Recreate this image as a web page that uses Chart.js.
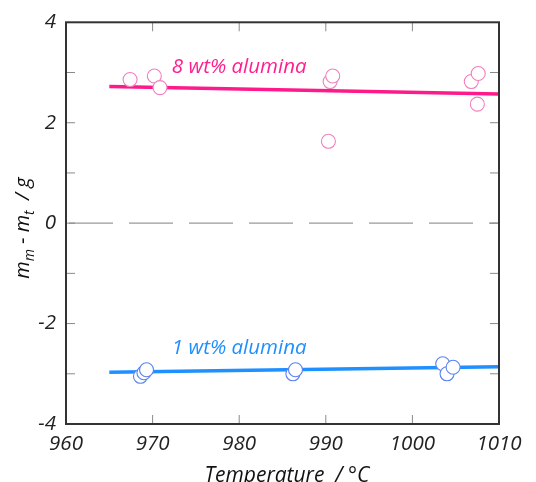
<!DOCTYPE html>
<html><head><meta charset="utf-8">
<script src="https://cdn.jsdelivr.net/npm/chart.js@4.4.1/dist/chart.umd.min.js"></script>
<style>html,body{margin:0;padding:0;background:#fff}#wrap{width:536px;height:482px}</style>
</head><body><div id="wrap"><canvas id="c" width="536" height="482"></canvas></div>
<script>
// Data
const xTicks = [960, 970, 980, 990, 1000, 1010];
const yTicks = [-4, -2, 0, 2, 4];
const pinkT = [967.4, 970.2, 970.85, 990.3, 990.5, 990.8, 1006.8, 1007.6, 1007.5];
const pinkV = [2.86, 2.93, 2.70, 1.63, 2.82, 2.93, 2.82, 2.98, 2.37];
const blueT = [968.6, 969.0, 969.3, 986.2, 986.5, 1003.5, 1004.0, 1004.7];
const blueV = [-3.05, -2.98, -2.92, -3.00, -2.92, -2.80, -3.00, -2.87];
const fitT = [965, 1010];
const pinkFit = [2.72, 2.57];
const blueFit = [-2.97, -2.86];
const labels = [
  {text: '8 wt% alumina', t: 980, v: 3.10, color: '#ff1f8e'},
  {text: '1 wt% alumina', t: 980, v: -2.48, color: '#1f8fff'}
];
const xTitle = 'Temperature  / \u00B0C';
const FONT = '"Open Sans", sans-serif';

const pts = (xs, ys) => xs.map((x, i) => ({x, y: ys[i]}));

const deco = {
  id: 'deco',
  beforeDatasetsDraw(chart) {
    const {ctx, chartArea: a, scales: {x, y}} = chart;
    ctx.save();
    ctx.strokeStyle = '#9a9a9a';
    ctx.lineWidth = 1.3;
    ctx.setLineDash([44, 16]);
    const y0 = y.getPixelForValue(0);
    ctx.beginPath(); ctx.moveTo(a.left + 3, y0); ctx.lineTo(a.right, y0); ctx.stroke();
    ctx.setLineDash([]);
    ctx.strokeStyle = '#8a8a8a';
    ctx.lineWidth = 1;
    const L = 9;
    for (let v = -3; v <= 3; v++) {
      const py = y.getPixelForValue(v);
      ctx.beginPath();
      ctx.moveTo(a.left, py); ctx.lineTo(a.left + L, py);
      ctx.moveTo(a.right, py); ctx.lineTo(a.right - L, py);
      ctx.stroke();
    }
    xTicks.slice(1, -1).forEach(t => {
      const px = x.getPixelForValue(t);
      ctx.beginPath();
      ctx.moveTo(px, a.bottom); ctx.lineTo(px, a.bottom - L);
      ctx.moveTo(px, a.top); ctx.lineTo(px, a.top + L);
      ctx.stroke();
    });
    ctx.font = 'italic 20.5px ' + FONT;
    ctx.textAlign = 'center'; ctx.textBaseline = 'middle';
    labels.forEach(l => {
      ctx.fillStyle = l.color;
      ctx.fillText(l.text, x.getPixelForValue(l.t), y.getPixelForValue(l.v));
    });
    ctx.restore();
  },
  afterDraw(chart) {
    const {ctx, chartArea: a} = chart;
    ctx.save();
    ctx.strokeStyle = '#333';
    ctx.lineWidth = 2;
    ctx.strokeRect(a.left, a.top, a.right - a.left, a.bottom - a.top);
    ctx.fillStyle = '#111';
    ctx.font = 'italic 21px ' + FONT;
    ctx.textAlign = 'center'; ctx.textBaseline = 'middle';
    ctx.fillText(xTitle, 287, 476);
    ctx.translate(24, 228);
    ctx.rotate(-Math.PI / 2);
    const parts = [['m', 0], ['m', 1], [' - ', 0], ['m', 0], ['t', 1], ['  / g', 0]];
    const big = 'italic 20px ' + FONT, small = 'italic 14px ' + FONT;
    let w = 0;
    parts.forEach(p => { ctx.font = p[1] ? small : big; w += ctx.measureText(p[0]).width; });
    let cx = -w / 2;
    ctx.textAlign = 'left'; ctx.textBaseline = 'alphabetic';
    parts.forEach(p => {
      ctx.font = p[1] ? small : big;
      ctx.fillText(p[0], cx, p[1] ? 10 : 5);
      cx += ctx.measureText(p[0]).width;
    });
    ctx.restore();
  }
};

new Chart(document.getElementById('c'), {
  type: 'scatter',
  data: {
    datasets: [
      {data: pts(pinkT, pinkV), pointRadius: 7, pointBorderWidth: 1.1, borderColor: '#f27fbd', backgroundColor: '#fff', order: 1},
      {data: pts(blueT, blueV), pointRadius: 7, pointBorderWidth: 1.1, borderColor: '#5a82f0', backgroundColor: '#fff', order: 1},
      {data: pts(fitT, pinkFit), showLine: true, pointRadius: 0, borderColor: '#ff1a8c', borderWidth: 3.5, order: 2},
      {data: pts(fitT, blueFit), showLine: true, pointRadius: 0, borderColor: '#1e90ff', borderWidth: 3.5, order: 2}
    ]
  },
  options: {
    responsive: false,
    animation: false,
    layout: {padding: {left: 0, right: 37, top: 18, bottom: 0}},
    plugins: {legend: {display: false}, tooltip: {enabled: false}},
    scales: {
      x: {
        type: 'linear', min: 960, max: 1010,
        afterBuildTicks: s => { s.ticks = xTicks.map(v => ({value: v})); },
        afterFit: s => { s.height = 58; },
        grid: {display: false, drawTicks: false},
        border: {display: false},
        ticks: {color: '#222', font: {family: FONT, size: 20.5, style: 'italic'}, padding: 8, maxRotation: 0, autoSkip: false, callback: v => String(v)}
      },
      y: {
        min: -4, max: 4,
        afterBuildTicks: s => { s.ticks = yTicks.map(v => ({value: v})); },
        afterFit: s => { s.width = 66; },
        grid: {display: false, drawTicks: false},
        border: {display: false},
        ticks: {color: '#222', font: {family: FONT, size: 20.5, style: 'italic'}, padding: 10, callback: v => String(v)}
      }
    }
  },
  plugins: [deco]
});
</script>
</body></html>
